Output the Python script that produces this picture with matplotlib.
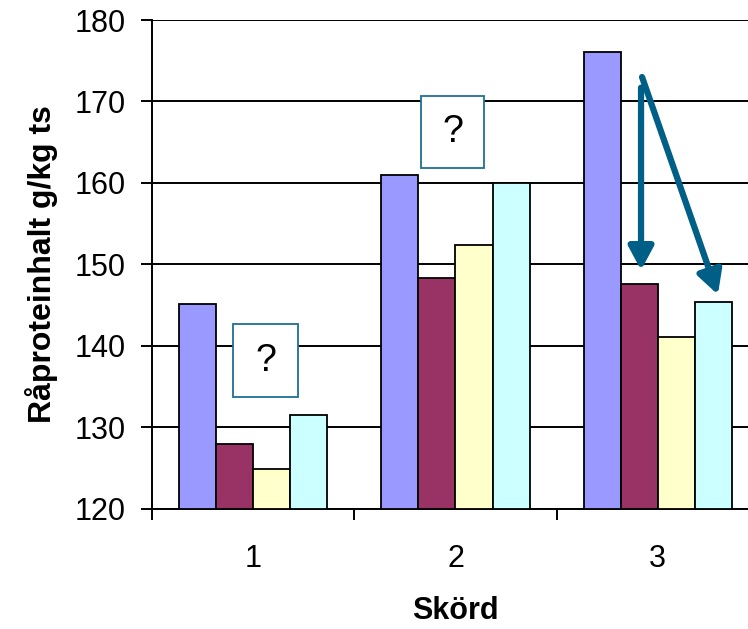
import numpy as np
import matplotlib
matplotlib.use("Agg")
import matplotlib.pyplot as plt
from matplotlib.patches import Rectangle

plt.rcParams['font.family'] = ['Liberation Sans', 'DejaVu Sans']

# data
skord = ["1", "2", "3"]
serie_a = [145.1, 161.0, 176.1]
serie_b = [128.0, 148.4, 147.6]
serie_c = [124.9, 152.4, 141.1]
serie_d = [131.5, 160.0, 145.4]
colors = ["#9999FF", "#993366", "#FFFFCC", "#CCFFFF"]

fig = plt.figure(figsize=(7.48, 6.29), dpi=100)
ax = fig.add_axes([0.2032, 0.1908, 0.8115, 0.7774])

x = np.arange(len(skord))
width = 0.183
series = [serie_a, serie_b, serie_c, serie_d]
for i, vals in enumerate(series):
    offs = (i - 1.5) * width
    ax.bar(x + offs, np.array(vals) - 120, width, bottom=120, color=colors[i],
           edgecolor="black", linewidth=1.3, zorder=3)

ax.set_xlim(-0.5, 2.5)
ax.set_ylim(120, 180)
ax.set_yticks(np.arange(120, 181, 10))
ax.yaxis.grid(True, color="black", linewidth=1.4, zorder=0)
ax.set_axisbelow(True)

# tick marks between categories, labels at centres
ax.set_xticks([-0.5, 0.5, 1.5, 2.5])
ax.set_xticklabels([])
ax.set_xticks(x, minor=True)
ax.set_xticklabels(skord, minor=True)
ax.tick_params(axis="x", which="major", length=8, width=1.4, direction="out")
ax.tick_params(axis="x", which="minor", length=0, pad=25, labelsize=22)
ax.tick_params(axis="y", length=8, width=1.4, direction="out", pad=11, labelsize=22)

for s in ["top", "right"]:
    ax.spines[s].set_visible(False)
for s in ["left", "bottom"]:
    ax.spines[s].set_linewidth(1.4)

ax.set_ylabel("Råproteinhalt g/kg ts", fontsize=23, fontweight="bold", labelpad=12)
ax.set_xlabel("Skörd", fontsize=22, fontweight="bold", labelpad=16)

# question boxes
boxes = [((-0.0997, 133.74), 0.3213, 8.96, 0.061, 138.2),
         ((0.8295, 161.84), 0.3114, 8.83, 0.985, 166.25)]
for (bx, by), bw, bh, tx, ty in boxes:
    ax.add_patch(Rectangle((bx, by), bw, bh, facecolor="white", edgecolor="#1F6F95",
                           linewidth=1.3, zorder=5))
    ax.text(tx, ty, "?", fontsize=27, ha="center", va="center", zorder=6)

# arrows
arrow = dict(arrowstyle="-|>,head_length=1.4,head_width=0.75", color="#005F87",
             lw=4.5, mutation_scale=10, shrinkA=0, shrinkB=0)
ax.annotate("", xy=(1.917, 149.3), xytext=(1.917, 171.7), arrowprops=arrow, zorder=7)
ax.annotate("", xy=(2.297, 146.3), xytext=(1.922, 173.0), arrowprops=arrow, zorder=7)

fig.savefig("out.png", dpi=100)
